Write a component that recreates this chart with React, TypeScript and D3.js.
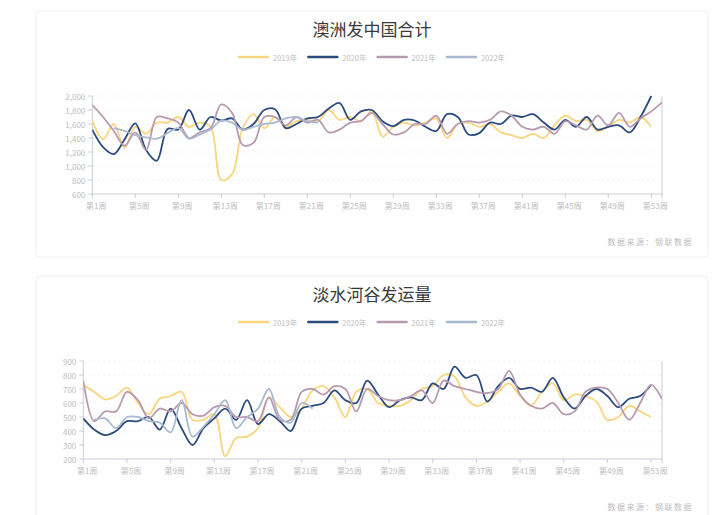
import * as d3 from "d3";

const weeks = d3.range(1, 55).map((w) => `第${w}周`);
const years = ["2019年", "2020年", "2021年", "2022年"];
const colors = ["#f8d57e", "#2b4b7c", "#b79ab0", "#a9b9cf"];

// 澳洲发中国合计
const aus2019 = [
  1650, 1380, 1600, 1260, 1560, 1460, 1620, 1620, 1700, 1560,
  1620, 1560, 800, 880, 1540, 1740, 1540, 1700, 1560, 1640,
  1660, 1640, 1800, 1660, 1700, 1640, 1780, 1420, 1560, 1620,
  1580, 1620, 1680, 1400, 1600, 1620, 1560, 1600, 1480, 1440,
  1400, 1460, 1400, 1580, 1720, 1640, 1660, 1500, 1560, 1660,
  1620, 1700, 1560,
];
const aus2020 = [
  1520, 1270, 1170, 1380, 1610, 1230, 1075, 1530, 1520, 1800,
  1520, 1700, 1650, 1680, 1520, 1600, 1800, 1810, 1540, 1600,
  1680, 1700, 1820, 1900, 1660, 1780, 1800, 1640, 1570, 1660,
  1650, 1560, 1500, 1740, 1700, 1450, 1470, 1620, 1600, 1720,
  1700, 1740, 1620, 1520, 1660, 1560, 1700, 1520, 1560, 1580,
  1480, 1700, 2000,
];
const aus2021 = [
  1870, 1700, 1500, 1290, 1480, 1230, 1700, 1680, 1620, 1400,
  1480, 1540, 1880, 1760, 1300, 1330, 1700, 1700, 1580, 1700,
  1620, 1660, 1480, 1520, 1620, 1640, 1760, 1600, 1450, 1480,
  1600, 1600, 1720, 1460, 1600, 1640, 1620, 1660, 1780, 1720,
  1560, 1520, 1560, 1460, 1640, 1580, 1520, 1720, 1580, 1760,
  1560, 1680, 1780, 1910,
];
const aus2022 = [
  null, null, 1540, 1500, 1440, 1410, 1390, 1470, 1540, 1390,
  1450, 1520, 1650, 1620, 1520, 1560, 1600, 1620, 1680, 1700,
  1640, 1620,
];
const ausTicks = [600, 800, 1000, 1200, 1400, 1600, 1800, 2000];

// 淡水河谷发运量
const vale2019 = [
  730, 680, 625, 650, 710, 600, 520, 630, 650, 680,
  480, 480, 520, 220, 350, 360, 420, 640, 570, 500,
  560, 690, 720, 640, 500, 680, 700, 600, 580, 580,
  620, 700, 720, 800, 790, 640, 580, 610, 680, 740,
  650, 580, 680, 740, 620, 660, 650, 610, 480, 500,
  580, 540, 500,
];
const vale2020 = [
  490, 410, 370, 400, 470, 470, 500, 410, 560, 420,
  300, 420, 490, 560, 480, 620, 450, 520, 470, 400,
  560, 580, 600, 690, 620, 600, 760, 660, 570, 620,
  640, 620, 740, 700, 860, 780, 800, 610, 720, 780,
  700, 710, 680, 780, 640, 560, 650, 700, 650, 570,
  630, 650, 730,
];
const vale2021 = [
  760, 470, 540, 540, 680, 620, 490, 560, 540, 600,
  520, 510, 570, 580, 500, 500, 470, 640, 480, 480,
  680, 700, 660, 720, 700, 540, 700, 650, 620, 620,
  650, 690, 600, 760, 720, 700, 680, 670, 700, 830,
  660, 580, 560, 600, 520, 540, 680, 710, 700, 600,
  480, 600, 730, 630,
];
const vale2022 = [
  null, 480, 490, 420, 500, 500, 470, 460, 390, 620,
  360, 430, 520, 620, 420, 500, 560, 700, 500, 460,
  600, 560,
];
const valeTicks = [200, 300, 400, 500, 600, 700, 800, 900];

const FONT = "'Noto Sans CJK SC', 'Noto Sans', sans-serif";
const RIGHT = 662;
const LABEL = "#bdbdbd";
const AXIS = "#c9cdd9";

type ChartProps = {
  t: number;
  id: string;
  title: string;
  left: number;
  yTicks: number[];
  series: (number | null)[][];
};

function Chart({ t, id, title, left, yTicks, series }: ChartProps) {
  const plotTop = 96 + t;
  const plotBottom = 194 + t;
  const x = d3.scalePoint<string>().domain(weeks).range([left, RIGHT]);
  const y = d3
    .scaleLinear()
    .domain([yTicks[0], yTicks[yTicks.length - 1]])
    .range([plotBottom, plotTop]);
  const fmt = d3.format(",");

  const line = d3
    .line<number | null>()
    .defined((d) => d != null)
    .x((_, i) => x(weeks[i]) as number)
    .y((d) => y(d as number))
    .curve(d3.curveCatmullRom.alpha(0.5));

  const labelWeeks = weeks.filter((_, i) => i % 4 === 0);

  return (
    <g>
      <rect x={36} y={11 + t} width={672} height={246} rx={4} fill="#fff" stroke="#f0f0f0" />
      <text x={372} y={28 + t} textAnchor="middle" dominantBaseline="central" fontSize={17} fill="#3a3a3a">
        {title}
      </text>

      {/* legend */}
      {years.map((yr, i) => (
        <g key={yr} transform={`translate(${239 + i * 69.3},${57 + t})`}>
          <line x1={0} x2={29} y1={0} y2={0} stroke={colors[i]} strokeWidth={2.5} strokeLinecap="round" />
          <text x={34} y={0} dominantBaseline="central" fontSize={7.5} fill={LABEL}>
            {yr}
          </text>
        </g>
      ))}

      {/* grid */}
      {yTicks.slice(1).map((v) => (
        <line key={v} x1={left} x2={RIGHT} y1={y(v)} y2={y(v)} stroke="#eef0f4" strokeDasharray="2,3" />
      ))}

      {/* axes */}
      <line x1={left} x2={left} y1={plotTop} y2={plotBottom} stroke={AXIS} />
      <line x1={RIGHT} x2={RIGHT} y1={plotTop} y2={plotBottom} stroke={AXIS} />
      <line x1={left} x2={RIGHT} y1={plotBottom} y2={plotBottom} stroke={AXIS} />
      {yTicks.map((v) => (
        <g key={v}>
          <line x1={left - 4} x2={left} y1={y(v)} y2={y(v)} stroke={AXIS} />
          <text x={left - 7} y={y(v)} textAnchor="end" dominantBaseline="central" fontSize={8} fill={LABEL}>
            {fmt(v)}
          </text>
        </g>
      ))}
      {[...labelWeeks, weeks[weeks.length - 1]].map((w, i) => (
        <line key={w + i} x1={x(w)} x2={x(w)} y1={plotBottom} y2={plotBottom + 4} stroke={AXIS} />
      ))}
      {labelWeeks.map((w) => (
        <text key={w} x={(x(w) as number) + 4} y={plotBottom + 11} textAnchor="middle" dominantBaseline="central" fontSize={8} fill={LABEL}>
          {w}
        </text>
      ))}

      <clipPath id={id}>
        <rect x={left} y={plotTop - 1} width={RIGHT - left} height={plotBottom - plotTop + 1} />
      </clipPath>
      <g clipPath={`url(#${id})`}>
        {series.map((s, i) => (
          <path key={i} d={line(s) ?? ""} fill="none" stroke={colors[i]} strokeWidth={1.8} strokeLinejoin="round" />
        ))}
      </g>

      <text x={693} y={241 + t} textAnchor="end" dominantBaseline="central" fontSize={8} letterSpacing={1.5} fill={LABEL}>
        数据来源：钢联数据
      </text>
    </g>
  );
}

export default function App() {
  return (
    <svg
      width={723}
      height={515}
      style={{ position: "absolute", left: 0, top: 0, fontFamily: FONT, background: "#fff" }}
    >
      <Chart
        t={0}
        id="clip-aus"
        title="澳洲发中国合计"
        left={92.3}
        yTicks={ausTicks}
        series={[aus2019, aus2020, aus2021, aus2022]}
      />
      <Chart
        t={265}
        id="clip-vale"
        title="淡水河谷发运量"
        left={83.3}
        yTicks={valeTicks}
        series={[vale2019, vale2020, vale2021, vale2022]}
      />
    </svg>
  );
}
